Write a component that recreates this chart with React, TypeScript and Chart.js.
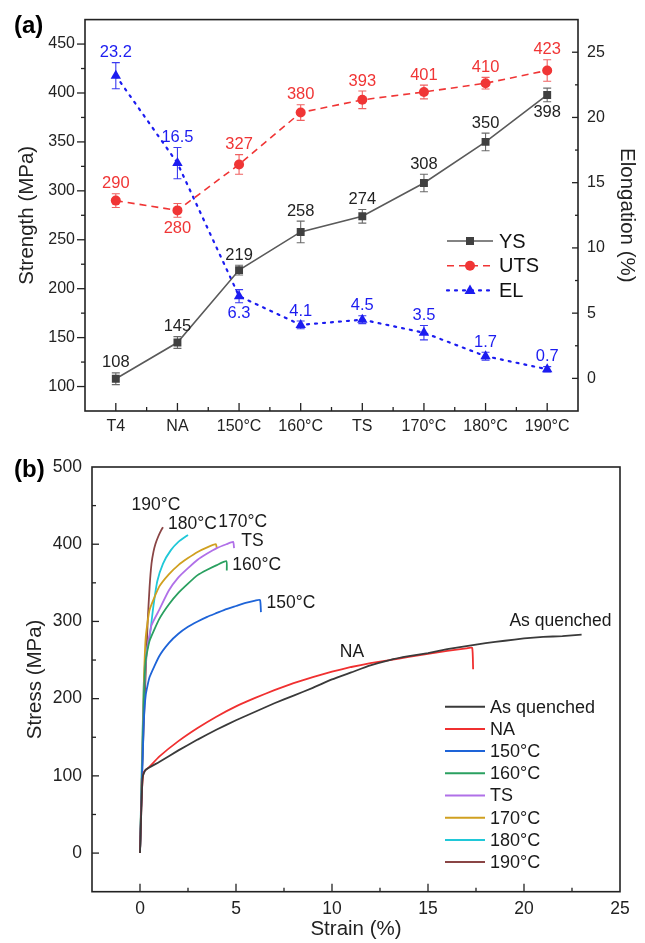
import React, { useEffect, useRef } from "react";
import { Chart, registerables } from "chart.js";
Chart.register(...registerables);

const FONT = "'Liberation Sans', Arial, Helvetica, sans-serif";

// ---------- Panel (a) data ----------
const categories = ["T4", "NA", "150°C", "160°C", "TS", "170°C", "180°C", "190°C"];
const ysValues = [108, 145, 219, 258, 274, 308, 350, 398];
const ysErrors = [6, 6, 5, 11, 7, 9, 9, 7];
const utsValues = [290, 280, 327, 380, 393, 401, 410, 423];
const utsErrors = [7, 7, 10, 8, 9, 7, 6, 11];
const elValues = [23.2, 16.5, 6.3, 4.1, 4.5, 3.5, 1.7, 0.7];
const elErrors = [1.0, 1.2, 0.5, 0.3, 0.3, 0.55, 0.3, 0.2];
const ysLabelBelow = [false, false, false, false, false, false, false, true];
const utsLabelBelow = [false, true, false, false, false, false, false, false];
const elLabelBelow = [false, false, true, false, false, false, false, false];
const strengthTicks = [100, 150, 200, 250, 300, 350, 400, 450];
const elongationTicks = [0, 5, 10, 15, 20, 25];

// ---------- Panel (b) data : [strain %, stress MPa] ----------
const asQuenched = [[0, 0], [0.05, 40], [0.1, 80], [0.15, 100], [0.3, 108], [1, 118], [2, 133], [3, 147], [4, 160], [5, 172], [6, 183], [7, 194], [8, 204], [9, 214], [10, 225], [11, 234], [12, 243], [13, 250], [14, 255], [15, 259], [16, 264], [17, 268], [18, 272], [19, 275], [20, 278], [21, 280], [22, 281], [23, 283]];
const naCurve = [[0, 0], [0.1, 80], [0.2, 105], [0.5, 112], [1, 125], [2, 145], [3, 162], [4, 177], [5, 190], [6, 201], [7, 211], [8, 220], [9, 228], [10, 235], [11, 241], [12, 246], [13, 250], [14, 254], [15, 258], [16, 262], [17, 265], [17.3, 266], [17.35, 238]];
const c150 = [[0, 0], [0.1, 90], [0.2, 170], [0.3, 205], [0.5, 228], [1, 255], [1.5, 272], [2, 284], [2.5, 293], [3, 300], [3.5, 306], [4, 311], [4.5, 316], [5, 320], [5.5, 324], [6, 327], [6.25, 328], [6.3, 312]];
const c160 = [[0, 0], [0.1, 100], [0.2, 200], [0.3, 250], [0.5, 275], [1, 303], [1.5, 322], [2, 337], [2.5, 349], [3, 360], [3.5, 367], [4, 373], [4.5, 378], [4.52, 366]];
const cTS = [[0, 0], [0.1, 100], [0.2, 200], [0.35, 260], [0.6, 295], [1, 315], [1.5, 340], [2, 357], [2.5, 369], [3, 380], [3.5, 388], [4, 395], [4.5, 400], [4.85, 403], [4.9, 395]];
const c170 = [[0, 0], [0.1, 110], [0.2, 220], [0.3, 280], [0.5, 315], [1, 345], [1.5, 361], [2, 373], [2.5, 382], [3, 390], [3.5, 396], [3.95, 400], [4.0, 395]];
const c180 = [[0, 0], [0.1, 120], [0.2, 220], [0.3, 255], [0.5, 280], [0.7, 320], [0.9, 352], [1.2, 375], [1.6, 392], [2, 403], [2.5, 412]];
const c190 = [[0, 0], [0.1, 100], [0.2, 170], [0.3, 235], [0.4, 300], [0.5, 345], [0.6, 375], [0.7, 390], [0.8, 400], [0.95, 410], [1.1, 418], [1.2, 422]];
const curveNames = ["As quenched", "NA", "150°C", "160°C", "TS", "170°C", "180°C", "190°C"];
const curveColors = ["#3a3a3a", "#f03030", "#1e64d8", "#2aa060", "#b070e8", "#d0a020", "#20c8d8", "#8a4545"];
const curveData = [asQuenched, naCurve, c150, c160, cTS, c170, c180, c190];
const curveLabels = [
  { text: "190°C", x: 0.83, y: 450 },
  { text: "180°C", x: 2.73, y: 426 },
  { text: "170°C", x: 5.35, y: 429 },
  { text: "TS", x: 5.86, y: 404 },
  { text: "160°C", x: 6.08, y: 373 },
  { text: "150°C", x: 7.86, y: 324 },
  { text: "NA", x: 11.04, y: 260 },
  { text: "As quenched", x: 21.9, y: 300 },
];
const strainTicks = [0, 5, 10, 15, 20, 25];
const stressTicks = [0, 100, 200, 300, 400, 500];

const YS_LINE = "#5a5a5a";
const YS_MARK = "#404040";
const UTS_COLOR = "#f03535";
const EL_COLOR = "#1c1cf0";
const AXIS = "#222222";

function drawErrors(ctx: any, xs: any, ys: any, vals: number[], errs: number[], color: string) {
  ctx.save();
  ctx.strokeStyle = color;
  ctx.lineWidth = 1.1;
  vals.forEach((v, i) => {
    const px = xs.getPixelForValue(i);
    const t = ys.getPixelForValue(v + errs[i]);
    const b = ys.getPixelForValue(v - errs[i]);
    ctx.beginPath();
    ctx.moveTo(px, t); ctx.lineTo(px, b);
    ctx.moveTo(px - 4, t); ctx.lineTo(px + 4, t);
    ctx.moveTo(px - 4, b); ctx.lineTo(px + 4, b);
    ctx.stroke();
  });
  ctx.restore();
}

function drawValueLabels(ctx: any, xs: any, ys: any, vals: number[], errs: number[], below: boolean[], color: string) {
  ctx.save();
  ctx.fillStyle = color;
  ctx.font = `16.5px ${FONT}`;
  ctx.textAlign = "center";
  ctx.textBaseline = "middle";
  vals.forEach((v, i) => {
    const px = xs.getPixelForValue(i);
    const py = below[i] ? ys.getPixelForValue(v - errs[i]) + 11 : ys.getPixelForValue(v + errs[i]) - 10;
    ctx.fillText(String(v), px, py);
  });
  ctx.restore();
}

function tickLine(ctx: any, x1: number, y1: number, x2: number, y2: number) {
  ctx.beginPath();
  ctx.moveTo(x1, y1);
  ctx.lineTo(x2, y2);
  ctx.stroke();
}

const panelAPlugin = {
  id: "panelA",
  beforeDatasetsDraw(chart: any) {
    const { ctx, scales } = chart;
    drawErrors(ctx, scales.x, scales.y, ysValues, ysErrors, "#6a6a6a");
    drawErrors(ctx, scales.x, scales.y, utsValues, utsErrors, "#f06060");
    drawErrors(ctx, scales.x, scales.y1, elValues, elErrors, "#3a3af0");
  },
  afterDraw(chart: any) {
    const { ctx, chartArea: a, scales } = chart;
    ctx.save();
    ctx.strokeStyle = AXIS;
    ctx.lineWidth = 1.6;
    ctx.strokeRect(a.left, a.top, a.right - a.left, a.bottom - a.top);
    ctx.lineWidth = 1.3;
    for (let v = 100; v <= 450; v += 25) {
      const y = scales.y.getPixelForValue(v);
      tickLine(ctx, a.left - (v % 50 === 0 ? 8 : 4), y, a.left, y);
    }
    for (let v = 0; v <= 25; v += 2.5) {
      const y = scales.y1.getPixelForValue(v);
      tickLine(ctx, a.right - (v % 5 === 0 ? 6 : 3), y, a.right, y);
    }
    for (let i = 0; i < categories.length; i++) {
      const x = scales.x.getPixelForValue(i);
      tickLine(ctx, x, a.bottom, x, a.bottom - 8);
      if (i > 0) {
        const xm = (x + scales.x.getPixelForValue(i - 1)) / 2;
        tickLine(ctx, xm, a.bottom, xm, a.bottom - 4);
      }
    }
    ctx.restore();

    drawValueLabels(ctx, scales.x, scales.y, ysValues, ysErrors, ysLabelBelow, "#222");
    drawValueLabels(ctx, scales.x, scales.y, utsValues, utsErrors, utsLabelBelow, UTS_COLOR);
    drawValueLabels(ctx, scales.x, scales.y1, elValues, elErrors, elLabelBelow, EL_COLOR);

    ctx.save();
    const rows = [
      { t: "YS", c: YS_LINE, m: YS_MARK, dash: [], shape: "rect" },
      { t: "UTS", c: UTS_COLOR, m: UTS_COLOR, dash: [7, 5], shape: "circle" },
      { t: "EL", c: EL_COLOR, m: EL_COLOR, dash: [2, 6], shape: "triangle" },
    ];
    rows.forEach((r, i) => {
      const y = 241 + i * 24.7;
      ctx.strokeStyle = r.c;
      ctx.lineWidth = r.shape === "triangle" ? 2.2 : 1.6;
      ctx.lineCap = r.shape === "triangle" ? "round" : "butt";
      ctx.setLineDash(r.dash);
      tickLine(ctx, 447, y, 493, y);
      ctx.setLineDash([]);
      ctx.fillStyle = r.m;
      ctx.beginPath();
      if (r.shape === "rect") ctx.rect(466, y - 4, 8, 8);
      else if (r.shape === "circle") ctx.arc(470, y, 5, 0, Math.PI * 2);
      else { ctx.moveTo(470, y - 6); ctx.lineTo(475.5, y + 3.5); ctx.lineTo(464.5, y + 3.5); ctx.closePath(); }
      ctx.fill();
      ctx.fillStyle = "#111";
      ctx.font = `20px ${FONT}`;
      ctx.textAlign = "left";
      ctx.textBaseline = "middle";
      ctx.fillText(r.t, 499, y + 1);
    });
    ctx.font = `bold 24px ${FONT}`;
    ctx.fillStyle = "#000";
    ctx.textAlign = "left";
    ctx.textBaseline = "middle";
    ctx.fillText("(a)", 14, 26);
    ctx.restore();
  },
};

const panelBPlugin = {
  id: "panelB",
  afterDraw(chart: any) {
    const { ctx, chartArea: a, scales } = chart;
    ctx.save();
    ctx.strokeStyle = AXIS;
    ctx.lineWidth = 1.6;
    ctx.strokeRect(a.left, a.top, a.right - a.left, a.bottom - a.top);
    ctx.lineWidth = 1.3;
    for (let v = 0; v < 500; v += 50) {
      const y = scales.y.getPixelForValue(v);
      tickLine(ctx, a.left, y, a.left + (v % 100 === 0 ? 7 : 4), y);
    }
    for (let v = 0; v < 25; v += 2.5) {
      const x = scales.x.getPixelForValue(v);
      tickLine(ctx, x, a.bottom, x, a.bottom - (v % 5 === 0 ? 8 : 4));
    }
    ctx.fillStyle = "#1a1a1a";
    ctx.font = `17.5px ${FONT}`;
    ctx.textAlign = "center";
    ctx.textBaseline = "middle";
    curveLabels.forEach((l) => {
      ctx.fillText(l.text, scales.x.getPixelForValue(l.x), scales.y.getPixelForValue(l.y));
    });
    ctx.font = `18px ${FONT}`;
    curveNames.forEach((n, i) => {
      const y = 266.7 + i * 22.2;
      ctx.strokeStyle = curveColors[i];
      ctx.lineWidth = 2;
      tickLine(ctx, 445, y, 485, y);
      ctx.fillStyle = "#1a1a1a";
      ctx.textAlign = "left";
      ctx.fillText(n, 490, y + 1);
    });
    ctx.font = `bold 24px ${FONT}`;
    ctx.fillStyle = "#000";
    ctx.textAlign = "left";
    ctx.fillText("(b)", 14, 30);
    ctx.restore();
  },
};

function PanelA() {
  const ref = useRef<HTMLCanvasElement>(null);
  useEffect(() => {
    const tickFont = { family: FONT, size: 16 };
    const titleFont = { family: FONT, size: 20.5 };
    const chart = new Chart(ref.current as HTMLCanvasElement, {
      type: "line",
      data: {
        labels: categories,
        datasets: [
          { label: "YS", data: ysValues, yAxisID: "y", borderColor: YS_LINE, backgroundColor: YS_MARK, pointBorderColor: YS_MARK, pointStyle: "rect", pointRadius: 5.6, pointBorderWidth: 0, borderWidth: 1.6 },
          { label: "UTS", data: utsValues, yAxisID: "y", borderColor: UTS_COLOR, backgroundColor: UTS_COLOR, pointBorderColor: UTS_COLOR, borderDash: [7, 5], pointStyle: "circle", pointRadius: 5, pointBorderWidth: 0, borderWidth: 1.6 },
          { label: "EL", data: elValues, yAxisID: "y1", borderColor: EL_COLOR, backgroundColor: EL_COLOR, pointBorderColor: EL_COLOR, borderDash: [2, 6], borderCapStyle: "round", pointStyle: "triangle", pointRadius: 6, pointBorderWidth: 0, borderWidth: 2.2 },
        ],
      } as any,
      options: {
        animation: false,
        responsive: false,
        maintainAspectRatio: false,
        layout: { padding: { top: 15, left: 0, right: 0, bottom: 0 } },
        plugins: { legend: { display: false }, tooltip: { enabled: false } },
        scales: {
          x: {
            type: "category",
            offset: true,
            grid: { display: false, drawTicks: false },
            border: { display: false },
            ticks: { font: tickFont, color: AXIS, padding: 6, autoSkip: false, maxRotation: 0 },
            afterFit: (s: any) => { s.height = 39; },
          },
          y: {
            position: "left",
            min: 75,
            max: 475,
            afterBuildTicks: (s: any) => { s.ticks = strengthTicks.map((v) => ({ value: v })); },
            grid: { display: false, drawTicks: false },
            border: { display: false },
            ticks: { font: tickFont, color: AXIS, padding: 10 },
            title: { display: true, text: "Strength (MPa)", font: titleFont, color: AXIS, padding: { top: 15, bottom: 0 } },
            afterFit: (s: any) => { s.width = 85; },
          },
          y1: {
            position: "right",
            min: -2.5,
            max: 27.5,
            afterBuildTicks: (s: any) => { s.ticks = elongationTicks.map((v) => ({ value: v })); },
            grid: { display: false, drawTicks: false },
            border: { display: false },
            ticks: { font: tickFont, color: AXIS, padding: 9 },
            title: { display: true, text: "Elongation (%)", font: titleFont, color: AXIS, padding: { top: 6.5, bottom: 0 } },
            afterFit: (s: any) => { s.width = 67; },
          },
        },
      } as any,
      plugins: [panelAPlugin],
    });
    return () => chart.destroy();
  }, []);
  return <canvas ref={ref} width={645} height={450} style={{ position: "absolute", left: 0, top: 0, display: "block" }} />;
}

function PanelB() {
  const ref = useRef<HTMLCanvasElement>(null);
  useEffect(() => {
    const tickFont = { family: FONT, size: 17.5 };
    const titleFont = { family: FONT, size: 20.5 };
    const chart = new Chart(ref.current as HTMLCanvasElement, {
      type: "line",
      data: {
        datasets: curveData.map((d, i) => ({
          label: curveNames[i],
          data: d.map((p) => ({ x: p[0], y: p[1] })),
          borderColor: curveColors[i],
          backgroundColor: curveColors[i],
          borderWidth: 1.8,
          pointRadius: 0,
          tension: 0.15,
        })),
      } as any,
      options: {
        animation: false,
        responsive: false,
        maintainAspectRatio: false,
        layout: { padding: { top: 27, left: 0, right: 25, bottom: 0 } },
        plugins: { legend: { display: false }, tooltip: { enabled: false } },
        scales: {
          x: {
            type: "linear",
            min: -2.5,
            max: 25,
            afterBuildTicks: (s: any) => { s.ticks = strainTicks.map((v) => ({ value: v })); },
            grid: { display: false, drawTicks: false },
            border: { display: false },
            ticks: { font: tickFont, color: AXIS, padding: 7, maxRotation: 0 },
            title: { display: true, text: "Strain (%)", font: titleFont, color: AXIS, padding: { top: 0, bottom: 1 } },
            afterFit: (s: any) => { s.height = 51.3; },
          },
          y: {
            type: "linear",
            min: -50,
            max: 500,
            afterBuildTicks: (s: any) => { s.ticks = stressTicks.map((v) => ({ value: v })); },
            grid: { display: false, drawTicks: false },
            border: { display: false },
            ticks: { font: tickFont, color: AXIS, padding: 10 },
            title: { display: true, text: "Stress (MPa)", font: titleFont, color: AXIS, padding: { top: 23.5, bottom: 0 } },
            afterFit: (s: any) => { s.width = 92; },
          },
        },
      } as any,
      plugins: [panelBPlugin],
    });
    return () => chart.destroy();
  }, []);
  return <canvas ref={ref} width={645} height={503} style={{ position: "absolute", left: 0, top: 440, display: "block" }} />;
}

export default function App() {
  return (
    <div style={{ position: "absolute", left: 0, top: 0, width: 645, height: 943, background: "#fff", overflow: "hidden" }}>
      <PanelA />
      <PanelB />
    </div>
  );
}
